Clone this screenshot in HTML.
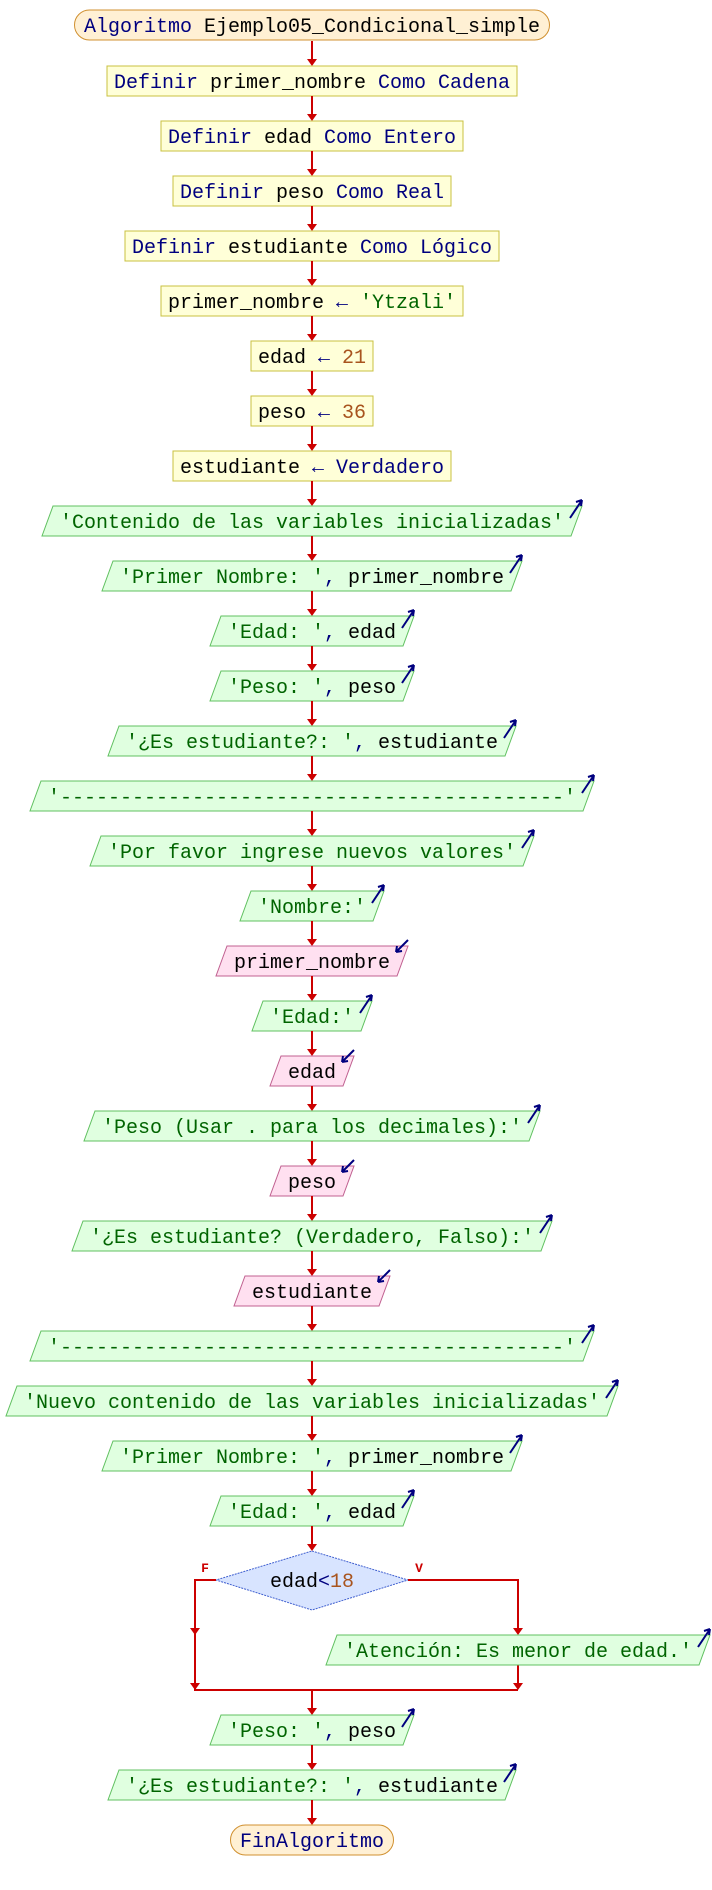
<!DOCTYPE html>
<html>
<head>
<meta charset="utf-8">
<style>
html,body{margin:0;padding:0;background:#fff;}
svg{display:block;}
text{font-family:"Liberation Mono","DejaVu Sans Mono",monospace;font-size:20px;}
.k{fill:#00007f;} .s{fill:#006400;} .n{fill:#a8541e;} .i{fill:#000;}
</style>
</head>
<body>
<svg id="chart" width="712" height="1890" viewBox="0 0 712 1890" xmlns="http://www.w3.org/2000/svg"></svg>
<script>
// node kinds: t=terminal, r=process, o=output, in=input
const nodeKinds = ["t","r","r","r","r","r","r","r","r","o","o","o","o","o","o","o","o","in","o","in","o","in","o","in","o","o","o","o"];
const nodeTexts = [
 [["Algoritmo ","k"],["Ejemplo05_Condicional_simple","i"]],
 [["Definir ","k"],["primer_nombre ","i"],["Como Cadena","k"]],
 [["Definir ","k"],["edad ","i"],["Como Entero","k"]],
 [["Definir ","k"],["peso ","i"],["Como Real","k"]],
 [["Definir ","k"],["estudiante ","i"],["Como Lógico","k"]],
 [["primer_nombre ","i"],["← ","k"],["'Ytzali'","s"]],
 [["edad ","i"],["← ","k"],["21","n"]],
 [["peso ","i"],["← ","k"],["36","n"]],
 [["estudiante ","i"],["← ","k"],["Verdadero","k"]],
 [["'Contenido de las variables inicializadas'","s"]],
 [["'Primer Nombre: '","s"],[", ","k"],["primer_nombre","i"]],
 [["'Edad: '","s"],[", ","k"],["edad","i"]],
 [["'Peso: '","s"],[", ","k"],["peso","i"]],
 [["'¿Es estudiante?: '","s"],[", ","k"],["estudiante","i"]],
 [["'------------------------------------------'","s"]],
 [["'Por favor ingrese nuevos valores'","s"]],
 [["'Nombre:'","s"]],
 [["primer_nombre","i"]],
 [["'Edad:'","s"]],
 [["edad","i"]],
 [["'Peso (Usar . para los decimales):'","s"]],
 [["peso","i"]],
 [["'¿Es estudiante? (Verdadero, Falso):'","s"]],
 [["estudiante","i"]],
 [["'------------------------------------------'","s"]],
 [["'Nuevo contenido de las variables inicializadas'","s"]],
 [["'Primer Nombre: '","s"],[", ","k"],["primer_nombre","i"]],
 [["'Edad: '","s"],[", ","k"],["edad","i"]]
];
const afterTexts = [
 [["'Peso: '","s"],[", ","k"],["peso","i"]],
 [["'¿Es estudiante?: '","s"],[", ","k"],["estudiante","i"]]
];
const NS="http://www.w3.org/2000/svg";
const svg=document.getElementById('chart');
const CX=312, CW=12, H=30, SK=11, RED="#cc0000";
function mk(tag,attrs){const e=document.createElementNS(NS,tag);for(const k in attrs)e.setAttribute(k,attrs[k]);svg.appendChild(e);return e;}
function len(segs){return segs.reduce((a,s)=>a+[...s[0]].length,0);}
function arrowDown(x,y1,y2){
  const l=mk('line',{x1:x,y1:y1,x2:x,y2:y2-5,stroke:RED,'stroke-width':2});
  
  
  const p=mk('polygon',{points:`${x-5},${y2-7} ${x+5},${y2-7} ${x},${y2}`,fill:RED});
  
  
}
function label(segs,cx,y){
  const t=mk('text',{x:cx,y:y+22,'text-anchor':'middle','xml:space':'preserve'});
  
  
  segs.forEach(s=>{const ts=document.createElementNS(NS,'tspan');ts.setAttribute('class',s[1]);ts.textContent=s[0];t.appendChild(ts);});
}
function node(kind,segs,cx,y,name){
  const w=len(segs)*CW;
  let sh;
  if(kind==='t'){
    const W=w+19;
    sh=mk('rect',{x:cx-W/2,y:y,width:W,height:H,rx:15,ry:15,fill:"#fff0d4",stroke:"#d09030",'stroke-width':1});
  } else if(kind==='r'){
    const W=w+14;
    sh=mk('rect',{x:cx-W/2,y:y,width:W,height:H,fill:"#ffffd8",stroke:"#c8c040",'stroke-width':1});
  } else {
    const W=w+36, x0=cx-W/2, x1=cx+W/2;
    const o=kind==='o';
    sh=mk('polygon',{points:`${x0+SK},${y} ${x1},${y} ${x1-SK},${y+H} ${x0},${y+H}`,fill:o?"#e0ffe0":"#ffe0f0",stroke:o?"#60c060":"#c06090",'stroke-width':1});
    let ic;
    if(o) ic=mk('path',{d:`M${x1-12},${y+12} L${x1},${y-6} M${x1},${y-6} l-6,2 M${x1},${y-6} l-1,6`,stroke:"#00007f",'stroke-width':2,fill:"none"});
    else ic=mk('path',{d:`M${x1},${y-6} L${x1-12},${y+6} M${x1-12},${y+6} l6,-1 M${x1-12},${y+6} l1,-6`,stroke:"#00007f",'stroke-width':2,fill:"none"});
    
    
  }
  
  
  label(segs,cx,y);
}
// main column
const Y0=10, STEP=55;
let ys=[10];
for(let i=1;i<nodeKinds.length;i++) ys.push(66+STEP*(i-1));
for(let i=0;i<nodeKinds.length;i++){
  if(i>0) arrowDown(CX, ys[i-1]+H+(i===1?1:0), ys[i]);
  const k=nodeKinds[i];
  node(k,nodeTexts[i],CX,ys[i], k==='t'?'start-terminal':k==='r'?'process-box':k==='o'?'output-box':'input-box');
}
// decision
const lastY=ys[ys.length-1];
const dTop=1551,dBot=1610,dL=216,dR=408,dC=1580;
arrowDown(CX,lastY+H,dTop);
const dm=mk('polygon',{points:`${CX},${dTop} ${dR},${dC} ${CX},${dBot} ${dL},${dC}`,fill:"#d8e4ff",stroke:"#4060d0",'stroke-width':1,'stroke-dasharray':'2,1'});


label([["edad","i"],["<","k"],["18","n"]],CX,dC-15);
const fl=mk('text',{x:205,y:1572,fill:RED,'text-anchor':'middle',style:'font-size:13px;font-weight:bold'});fl.textContent='F';


const vl=mk('text',{x:419,y:1572,fill:RED,'text-anchor':'middle',style:'font-size:13px;font-weight:bold'});vl.textContent='V';


const LX=195,RX=518,MY=1690,AY=1635;
const br=mk('path',{d:`M${dL},${dC} H${LX} V${MY} H${RX} M${dR},${dC} H${RX} V${AY-5} M${RX},${AY+H} V${MY-5}`,stroke:RED,'stroke-width':2,fill:"none"});


[[LX,AY],[LX,MY],[RX,AY],[RX,MY]].forEach(p=>{
  const a=mk('polygon',{points:`${p[0]-5},${p[1]-7} ${p[0]+5},${p[1]-7} ${p[0]},${p[1]}`,fill:RED});
  
  
});
node('o',[["'Atención: Es menor de edad.'","s"]],RX,AY,'output-box');
// after
const aY=[1715,1770];
arrowDown(CX,MY,aY[0]);
node('o',afterTexts[0],CX,aY[0],'output-box');
arrowDown(CX,aY[0]+H,aY[1]);
node('o',afterTexts[1],CX,aY[1],'output-box');
arrowDown(CX,aY[1]+H,1825);
node('t',[["FinAlgoritmo","k"]],CX,1825,'end-terminal');
</script>
</body>
</html>
